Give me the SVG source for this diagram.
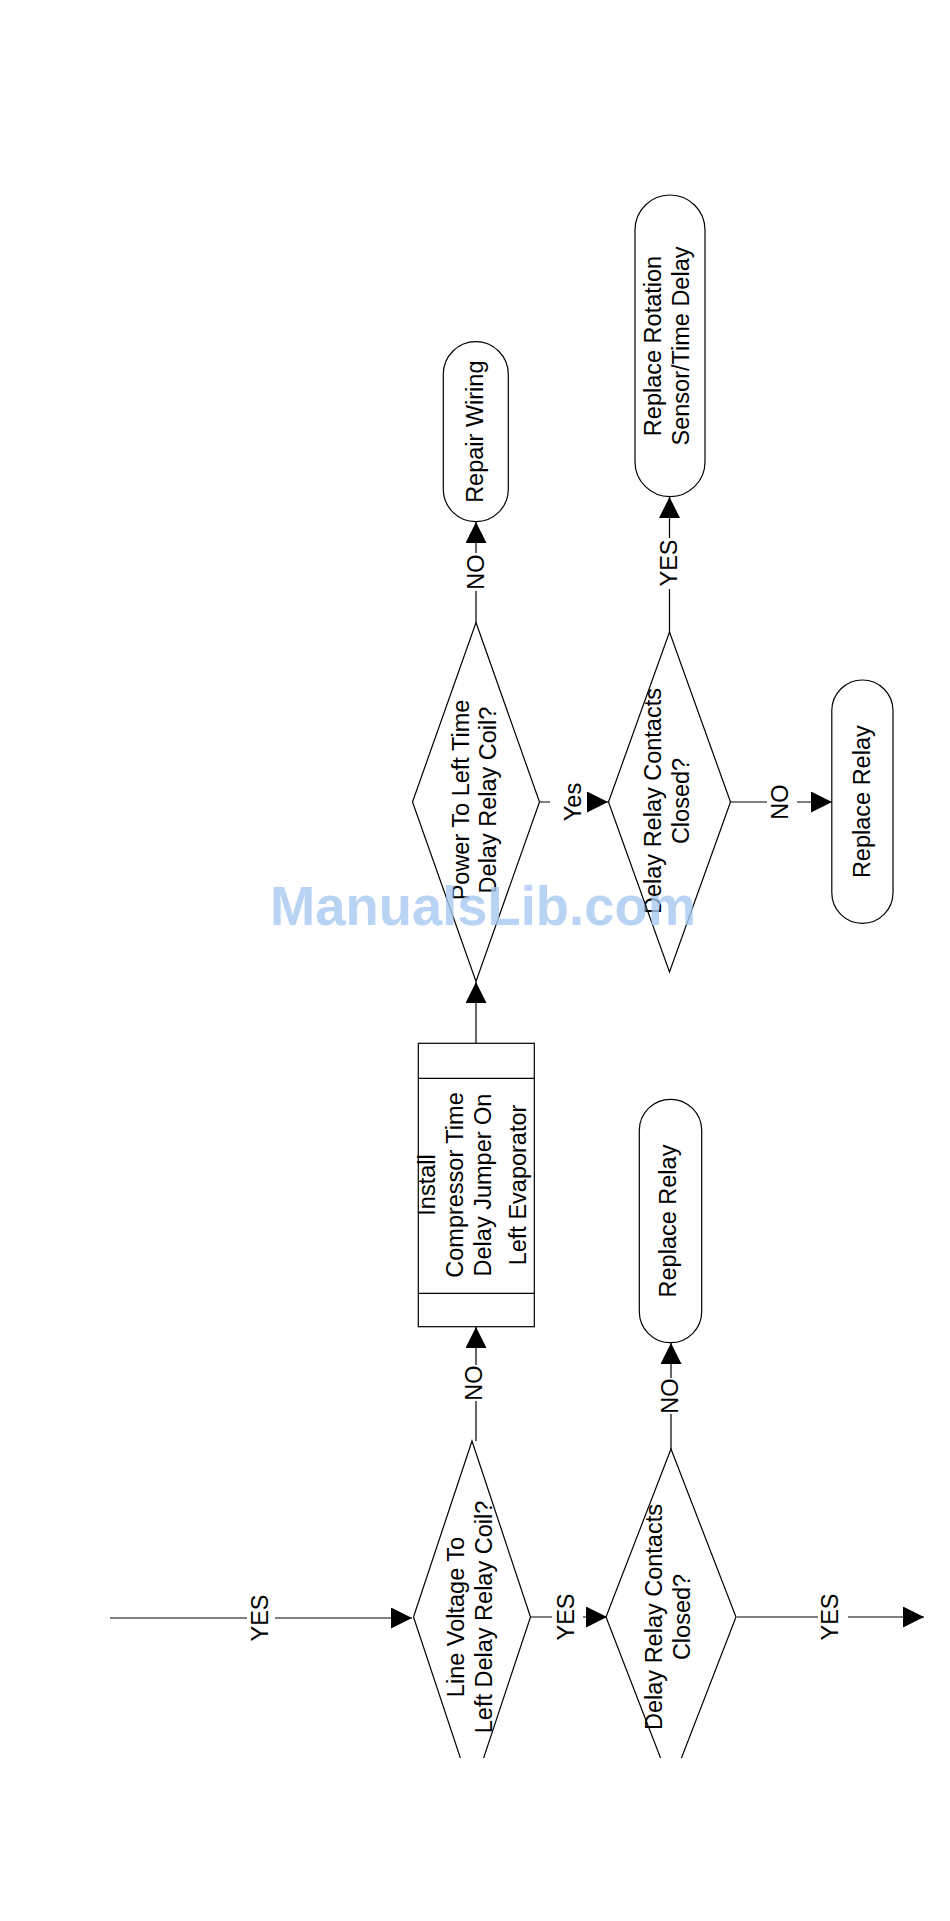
<svg xmlns="http://www.w3.org/2000/svg" width="950" height="1921" viewBox="0 0 950 1921">
<style>
.shape{fill:#ffffff;stroke:#000000;stroke-width:1.2}
.line{fill:none;stroke:#000000;stroke-width:1.2}
.t{font-family:"Liberation Sans",Arial,sans-serif;font-size:23.5px;fill:#000000;text-anchor:middle}
.wm{font-family:"Liberation Sans",Arial,sans-serif;font-size:55px;font-weight:bold;fill:#a6c8f0;fill-opacity:0.8}
</style>
<defs>
<marker id="arr" viewBox="0 0 21 21" refX="21" refY="10.5" markerWidth="21" markerHeight="21" markerUnits="userSpaceOnUse" orient="auto">
<path d="M0,0 L21,10.5 L0,21 z" fill="#000000"/>
</marker>
<clipPath id="clipBottom"><rect x="0" y="0" width="950" height="1758"/></clipPath>
</defs>
<rect x="0" y="0" width="950" height="1921" fill="#ffffff"/>

<g id="connectors">
<path class="line" d="M110,1618 H247 M275,1618 H412" marker-end="url(#arr)"/>
<path class="line" d="M529.5,1617 H552 M583,1617 H607" marker-end="url(#arr)"/>
<path class="line" d="M737,1617 H818 M848,1617 H924" marker-end="url(#arr)"/>
<path class="line" d="M476,1441 V1401 M476,1365 V1327" marker-end="url(#arr)"/>
<path class="line" d="M671,1449 V1414 M671,1378 V1343" marker-end="url(#arr)"/>
<path class="line" d="M476,1043 V982" marker-end="url(#arr)"/>
<path class="line" d="M476,622.5 V591 M476,553 V522" marker-end="url(#arr)"/>
<path class="line" d="M539.5,802 H550 M588,802 H608" marker-end="url(#arr)"/>
<path class="line" d="M669.5,632 V589 M669.5,538 V497" marker-end="url(#arr)"/>
<path class="line" d="M730,802 H767 M797,802 H832" marker-end="url(#arr)"/>
<text class="t" transform="translate(268,1618) rotate(-90)">YES</text>
<text class="t" transform="translate(574,1617) rotate(-90)">YES</text>
<text class="t" transform="translate(838,1617) rotate(-90)">YES</text>
<text class="t" transform="translate(482,1383) rotate(-90)">NO</text>
<text class="t" transform="translate(678,1396) rotate(-90)">NO</text>
<text class="t" transform="translate(484,572) rotate(-90)">NO</text>
<text class="t" transform="translate(581,802) rotate(-90)">Yes</text>
<text class="t" transform="translate(676.5,563) rotate(-90)">YES</text>
<text class="t" transform="translate(788,802) rotate(-90)">NO</text>
</g>

<g id="d1" clip-path="url(#clipBottom)">
<polygon class="shape" points="472,1441 530.5,1617 472,1793 413.5,1617"/>
<text class="t" transform="translate(464,1617) rotate(-90)"><tspan x="0" y="0">Line Voltage To</tspan><tspan x="0" y="27.5">Left Delay Relay Coil?</tspan></text>
</g>

<g id="d2" clip-path="url(#clipBottom)">
<polygon class="shape" points="671,1449 736,1617 671,1785 606,1617"/>
<text class="t" transform="translate(662,1617) rotate(-90)"><tspan x="0" y="0">Delay Relay Contacts</tspan><tspan x="0" y="28">Closed?</tspan></text>
</g>

<g id="r1">
<rect class="shape" x="418.3" y="1043.3" width="116" height="283.4"/>
<line class="line" x1="418.3" y1="1078.3" x2="534.3" y2="1078.3"/>
<line class="line" x1="418.3" y1="1293.3" x2="534.3" y2="1293.3"/>
<text class="t" transform="translate(435,1185) rotate(-90)"><tspan x="0" y="0">Install</tspan><tspan x="0" y="28">Compressor Time</tspan><tspan x="0" y="56">Delay Jumper On</tspan><tspan x="0" y="91">Left Evaporator</tspan></text>
</g>

<g id="t_replace_relay_low">
<rect class="shape" x="639.3" y="1099.3" width="62.4" height="243.4" rx="31.2" ry="31.2"/>
<text class="t" transform="translate(676,1221) rotate(-90)">Replace Relay</text>
</g>

<g id="d3">
<polygon class="shape" points="476,622.5 539.5,802 476,981.5 412.5,802"/>
<text class="t" transform="translate(468.5,800) rotate(-90)"><tspan x="0" y="0">Power To Left Time</tspan><tspan x="0" y="27.5">Delay Relay Coil?</tspan></text>
</g>

<g id="d4">
<polygon class="shape" points="669.5,632 730.5,802 669.5,972 608.5,802"/>
<text class="t" transform="translate(661,801) rotate(-90)"><tspan x="0" y="0">Delay Relay Contacts</tspan><tspan x="0" y="28">Closed?</tspan></text>
</g>

<g id="t_repair_wiring">
<rect class="shape" x="443.3" y="341.7" width="65" height="180" rx="32.5" ry="32.5"/>
<text class="t" transform="translate(483,431.7) rotate(-90)">Repair Wiring</text>
</g>

<g id="t_replace_rotation">
<rect class="shape" x="635" y="195" width="70" height="301.7" rx="35" ry="35"/>
<text class="t" transform="translate(661,346) rotate(-90)"><tspan x="0" y="0">Replace Rotation</tspan><tspan x="0" y="28">Sensor/Time Delay</tspan></text>
</g>

<g id="t_replace_relay_high">
<rect class="shape" x="831.8" y="680" width="61.2" height="243.3" rx="30.6" ry="30.6"/>
<text class="t" transform="translate(869.5,801.7) rotate(-90)">Replace Relay</text>
</g>

<text class="wm" x="270" y="925" textLength="426" lengthAdjust="spacingAndGlyphs">ManualsLib.com</text>
</svg>
